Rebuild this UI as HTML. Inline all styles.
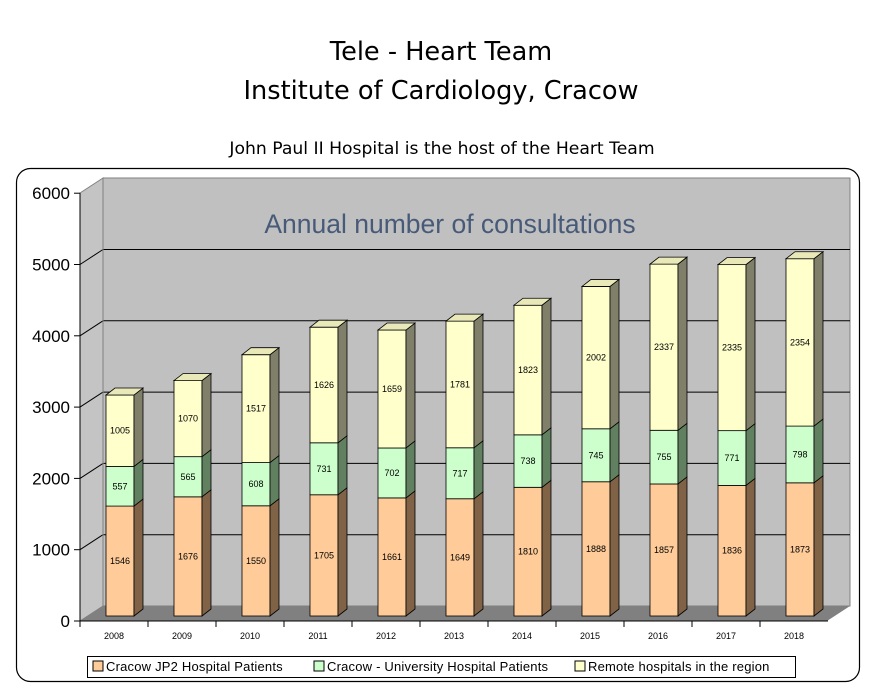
<!DOCTYPE html>
<html><head><meta charset="utf-8"><style>
body{margin:0;background:#fff;}
svg{display:block;font-family:"Liberation Sans",Arial,sans-serif;}
.t{font-family:"DejaVu Sans","Liberation Sans",sans-serif;}
</style></head><body>
<svg id="s" width="870" height="694" viewBox="0 0 870 694" xmlns="http://www.w3.org/2000/svg">
<text x="441" y="60" text-anchor="middle" font-size="25.6" class="t" fill="#000">Tele - Heart Team</text>
<text x="441" y="99" text-anchor="middle" font-size="25.6" class="t" fill="#000">Institute of Cardiology, Cracow</text>
<text x="442" y="154" text-anchor="middle" font-size="17.2" class="t" fill="#000">John Paul II Hospital is the host of the Heart Team</text>
<rect x="16.5" y="168.5" width="843" height="513" rx="14" fill="#fff" stroke="#000" stroke-width="1.2"/>
<polygon points="103,178 850,178 850,606 103,606" fill="#c0c0c0" stroke="#808080"/>
<polygon points="80,193 103,178 103,606 80,621" fill="#c4c4c4" stroke="#808080"/>
<polygon points="80,621 103,606 850,606 827,621" fill="#808080"/>
<g id="g"></g>
<text x="450" y="233" text-anchor="middle" font-size="26.5" fill="#475a78">Annual number of consultations</text>
<line x1="80" y1="193" x2="80" y2="621" stroke="#000"/>
<line x1="80" y1="621" x2="828" y2="621" stroke="#000"/>
<rect x="87.5" y="656.5" width="708" height="21" fill="#fff" stroke="#000"/>
<rect x="93" y="661" width="10" height="10" fill="#ffcc99" stroke="#000"/>
<text x="106" y="671" font-size="13" letter-spacing="0.2">Cracow JP2 Hospital Patients</text>
<rect x="314" y="661" width="10" height="10" fill="#ccffcc" stroke="#000"/>
<text x="327" y="671" font-size="13" letter-spacing="0.2">Cracow - University Hospital Patients</text>
<rect x="575" y="661" width="10" height="10" fill="#ffffcc" stroke="#000"/>
<text x="588" y="671" font-size="13" letter-spacing="0.2">Remote hospitals in the region</text>
</svg>
<script>
var g=document.getElementById('g'),h='';
for(var k=0;k<=6;k++){var yf=621-71.3*k,yb=606-71.3*k;
 if(k>0&&k<6)h+='<line x1="80" y1="'+yf+'" x2="103" y2="'+yb+'" stroke="#000"/><line x1="103" y1="'+yb+'" x2="850" y2="'+yb+'" stroke="#000"/>';
 h+='<line x1="74" y1="'+yf+'" x2="80" y2="'+yf+'" stroke="#000"/><text x="70" y="'+(yf+6)+'" text-anchor="end" font-size="17">'+(k*1000)+'</text>';}
h+='<line x1="103" y1="606" x2="103" y2="178" stroke="#808080"/>';
var d=[[1546,557,1005],[1676,565,1070],[1550,608,1517],[1705,731,1626],[1661,702,1659],[1649,717,1781],[1810,738,1823],[1888,745,2002],[1857,755,2337],[1836,771,2335],[1873,798,2354]];
var fc=['#ffcc99','#ccffcc','#ffffcc'],sc=['#806347','#608060','#80806a'],tc=['#e8b88a','#b8e8b8','#e8e8b8'];
for(var i=0;i<11;i++){var x=106+68*i,w=28,dx=9,dy=-7,y=616;
 h+='<line x1="'+(80+68*i)+'" y1="621" x2="'+(80+68*i)+'" y2="627" stroke="#000"/>';
 h+='<text x="'+(114+68*i)+'" y="639" text-anchor="middle" font-size="9">'+(2008+i)+'</text>';
 for(var j=0;j<3;j++){var v=d[i][j],hh=v*0.0711,yt=y-hh;
  h+='<rect x="'+x+'" y="'+yt+'" width="'+w+'" height="'+hh+'" fill="'+fc[j]+'" stroke="#000" stroke-width="0.8"/>';
  h+='<polygon points="'+(x+w)+','+y+' '+(x+w+dx)+','+(y+dy)+' '+(x+w+dx)+','+(yt+dy)+' '+(x+w)+','+yt+'" fill="'+sc[j]+'" stroke="#000" stroke-width="0.8"/>';
  h+='<text x="'+(x+w/2)+'" y="'+(yt+hh/2+3)+'" text-anchor="middle" font-size="9">'+v+'</text>';
  y=yt;}
 h+='<polygon points="'+x+','+y+' '+(x+w)+','+y+' '+(x+w+9)+','+(y-7)+' '+(x+9)+','+(y-7)+'" fill="'+tc[2]+'" stroke="#000" stroke-width="0.8"/>';
}
g.innerHTML=h;
</script>
</body></html>
